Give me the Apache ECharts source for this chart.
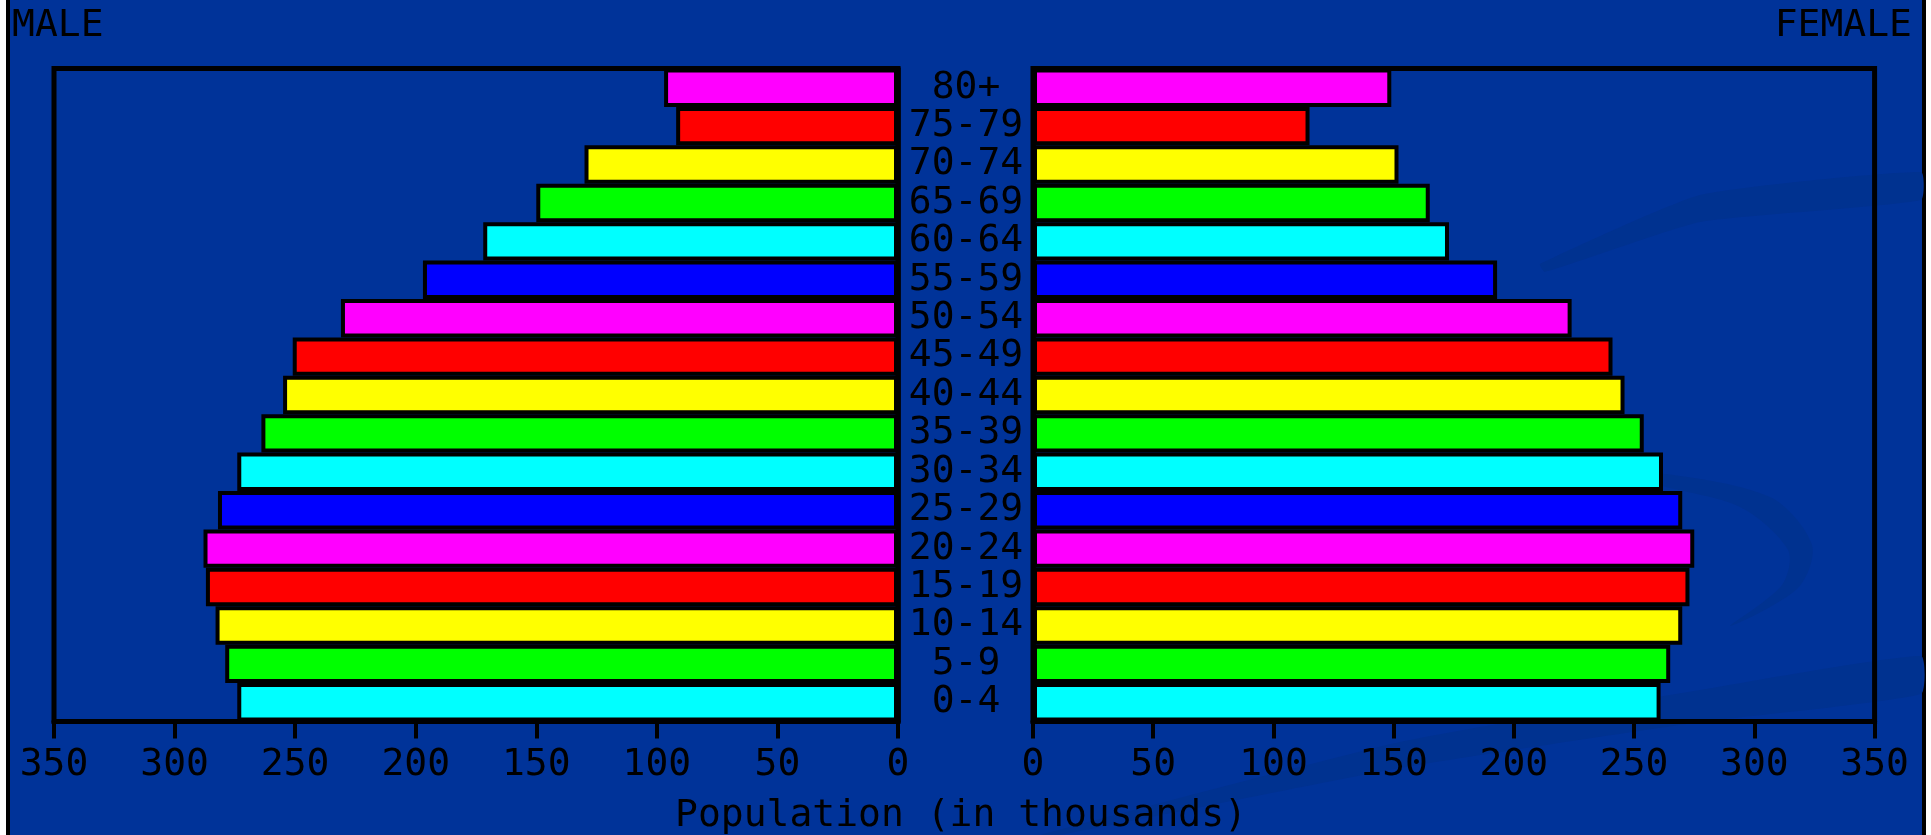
<!DOCTYPE html>
<html>
<head>
<meta charset="utf-8">
<script src="https://cdn.jsdelivr.net/npm/echarts@6/dist/echarts.min.js"></script>
<style>
html,body{margin:0;padding:0;background:#fff;}
#chart{width:1931px;height:835px;}
</style>
</head>
<body>
<div id="chart"></div>
<script>
// Age groups, bottom to top
const categories = ['0-4','5-9','10-14','15-19','20-24','25-29','30-34','35-39','40-44','45-49','50-54','55-59','60-64','65-69','70-74','75-79','80+'];
// Population in thousands
const male   = [274, 279, 283, 287, 288, 282, 274, 264, 255, 251, 231, 197, 172, 150, 130, 92, 97];
const female = [261, 265, 270, 273, 275, 270, 262, 254, 246, 241, 224, 193, 173, 165, 152, 115, 149];
const barColors = ['#00ffff','#00ff00','#ffff00','#ff0000','#ff00ff','#0000ff'];
const axisTitle = 'Population (in thousands)';
const leftTitle = 'MALE';
const rightTitle = 'FEMALE';

const FONT = '"DejaVu Sans Mono", "Liberation Mono", monospace';
const FS = 38;

function coloured(arr){
  return arr.map((v,i)=>({value:v, itemStyle:{color:barColors[i % barColors.length]}}));
}

const chart = echarts.init(document.getElementById('chart'));

const xAxisCommon = {
  type:'value', min:0, max:350, interval:50,
  axisLine:{show:true, lineStyle:{color:'#000', width:5}},
  axisTick:{show:true, length:17, lineStyle:{color:'#000', width:4}},
  axisLabel:{color:'#000', fontFamily:FONT, fontSize:FS, margin:25},
  splitLine:{show:false}
};

const swoosh = '#003290';

chart.setOption({
  backgroundColor:'#ffffff',
  animation:false,
  graphic:[
    {type:'rect', z:-100, silent:true,
      shape:{x:8, y:-20, width:1916, height:900},
      style:{fill:'#003399', stroke:'#000', lineWidth:4}},
    {type:'polygon', z:-90, silent:true,
      shape:{points:[[1060,835],[1400,768],[1700,722],[1921,694],[1921,656],[1700,690],[1400,742],[1040,835]], smooth:0.15},
      style:{fill:swoosh}},
    {type:'polygon', z:-90, silent:true,
      shape:{points:[[1545,272],[1700,222],[1921,200],[1921,172],[1700,195],[1540,264]], smooth:0.15},
      style:{fill:swoosh}},
    {type:'polygon', z:-90, silent:true,
      shape:{points:[[1650,472],[1770,497],[1812,545],[1798,588],[1730,626],[1782,585],[1788,550],[1740,507],[1650,482]], smooth:0.3},
      style:{fill:swoosh}},
    {type:'text', z:10, silent:true,
      style:{x:12, y:7, text:leftTitle, font:FS+'px '+FONT, fill:'#000', textAlign:'left', textVerticalAlign:'top'}},
    {type:'text', z:10, silent:true,
      style:{x:1912, y:7, text:rightTitle, font:FS+'px '+FONT, fill:'#000', textAlign:'right', textVerticalAlign:'top'}},
    {type:'text', z:10, silent:true,
      style:{x:961, y:797, text:axisTitle, font:FS+'px '+FONT, fill:'#000', textAlign:'center', textVerticalAlign:'top'}}
  ],
  grid:[
    {left:54, top:68.5, width:844, height:653, show:true, borderColor:'#000', borderWidth:5, backgroundColor:'transparent'},
    {left:1033, top:68.5, width:841.6, height:653, show:true, borderColor:'#000', borderWidth:5, backgroundColor:'transparent'}
  ],
  xAxis:[
    Object.assign({gridIndex:0, inverse:true}, xAxisCommon),
    Object.assign({gridIndex:1}, xAxisCommon)
  ],
  yAxis:[
    {gridIndex:0, type:'category', data:categories, position:'right',
      axisLine:{show:true, lineStyle:{color:'#000', width:4.5}},
      axisTick:{show:false}, axisLabel:{show:false}},
    {gridIndex:1, type:'category', data:categories, position:'left',
      axisLine:{show:true, lineStyle:{color:'#000', width:4.5}},
      axisTick:{show:false},
      axisLabel:{show:true, interval:0, color:'#000', fontFamily:FONT, fontSize:FS, margin:67, align:'center'}}
  ],
  series:[
    {type:'bar', xAxisIndex:0, yAxisIndex:0, data:coloured(male), barCategoryGap:'0%',
      itemStyle:{borderColor:'#000', borderWidth:4}},
    {type:'bar', xAxisIndex:1, yAxisIndex:1, data:coloured(female), barCategoryGap:'0%',
      itemStyle:{borderColor:'#000', borderWidth:4}}
  ]
});
</script>
</body>
</html>
